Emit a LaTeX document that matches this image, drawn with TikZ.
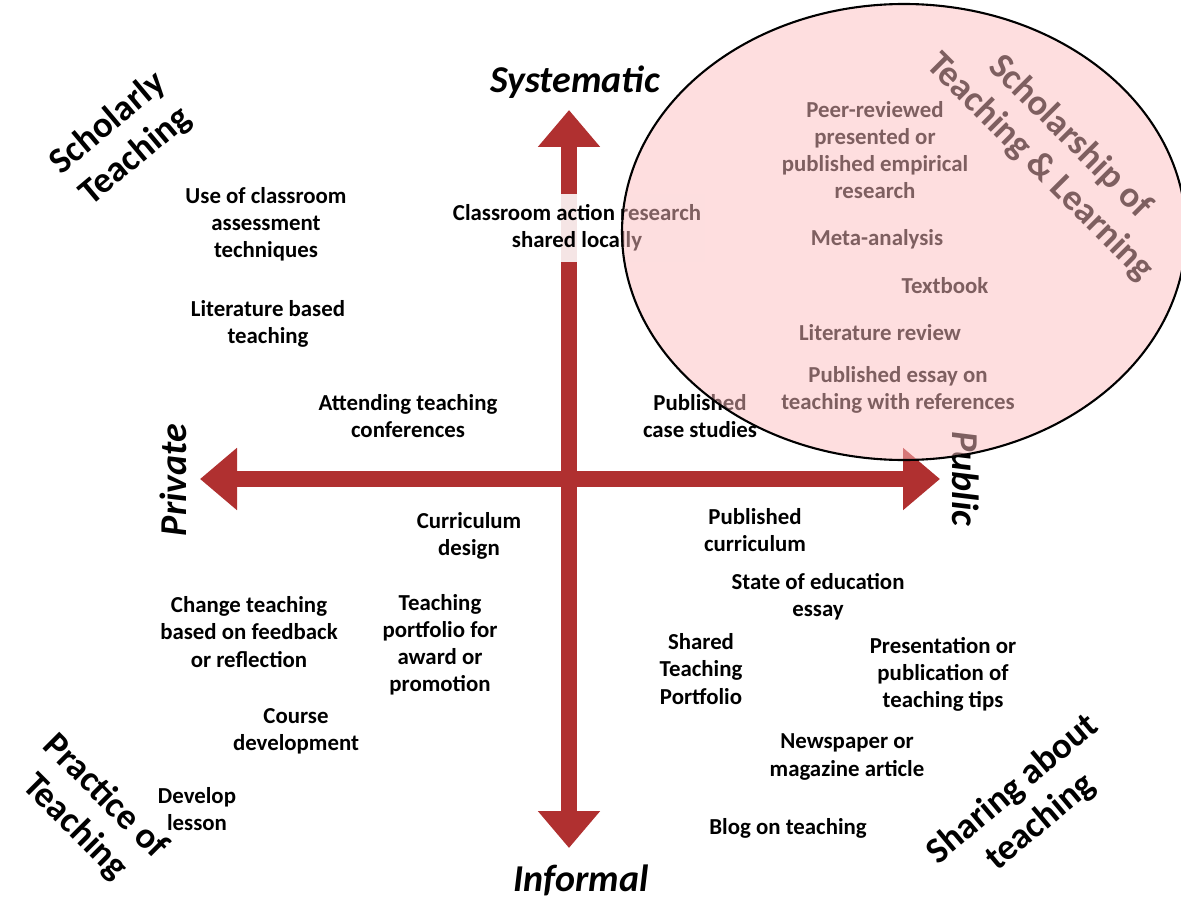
\documentclass[tikz,border=0pt]{standalone}
\usepackage{fontspec}
\setmainfont{Carlito}
\usepackage{tikz}
\usetikzlibrary{%
	arrows.meta,%
	calc
}
\definecolor{axisred}{RGB}{176,48,48}
\definecolor{sotlpink}{RGB}{253,190,192}

\begin{document}
\begin{tikzpicture}[
	item/.style={font=\fontsize{6.5}{7.7}\selectfont\bfseries, align=center, inner sep=1pt},
	axislabel/.style={font=\fontsize{10.8}{12}\selectfont\bfseries\itshape, inner sep=0pt},
	corner/.style={font=\fontsize{10.4}{12.2}\selectfont\bfseries, align=center, inner sep=0pt},
	axis/.style={axisred, line width=0.16cm, {Triangle[length=3.7mm, width=6mm]}-{Triangle[length=3.7mm, width=6mm]}}
]
	\useasboundingbox (0,0) rectangle (11.81,-8.98);
	% Axes
	\coordinate (west) at (2.00,-4.79);
	\coordinate (east) at (9.40,-4.79);
	\coordinate (north) at (5.69,-1.10);
	\coordinate (south) at (5.69,-8.48);
	\draw[axis] (west) -- (east);
	\draw[axis] (south) -- (north);
	% Axis labels
	\node[axislabel] (systematic) at (5.75,-0.82) {Systematic};
	\node[axislabel] (informal) at (5.81,-8.80) {Informal};
	\node[axislabel, rotate=90] (private) at (1.73,-4.80) {Private};
	\node[axislabel, rotate=-90] (public) at (9.66,-4.79) {Public};
	% Corner labels
	\node[corner, rotate=40] (scholarly) at (1.22,-1.40) {Scholarly\\Teaching};
	\node[corner, rotate=-45] (practice) at (0.90,-8.12) {Practice of\\Teaching};
	\node[corner, rotate=40] (sharing) at (10.27,-8.06) {Sharing about\\teaching};
	\node[corner, rotate=-45] (sotl) at (10.55,-1.52) {Scholarship of\\Teaching \& Learning};
	% Activities
	\node[item] (cat) at (2.66,-2.24) {Use of classroom\\assessment\\techniques};
	\node[item] (litbased) at (2.68,-3.24) {Literature based\\teaching};
	\node[item] (attend) at (4.08,-4.16) {Attending teaching\\conferences};
	\node[item, inner ysep=3pt, fill=white, fill opacity=0.88, text opacity=1] (actionres) at (5.77,-2.28) {Classroom action research\\shared locally};
	\node[item] (peer) at (8.75,-1.50) {Peer-reviewed\\presented or\\published empirical\\research};
	\node[item] (meta) at (8.77,-2.39) {Meta-analysis};
	\node[item] (textbook) at (9.45,-2.86) {Textbook};
	\node[item] (litrev) at (8.80,-3.33) {Literature review};
	\node[item] (essay) at (8.98,-3.90) {Published essay on\\teaching with references};
	\node[item] (casestud) at (7.00,-4.16) {Published\\case studies};
	\node[item] (currdes) at (4.69,-5.36) {Curriculum\\design};
	\node[item] (pubcurr) at (7.55,-5.30) {Published\\curriculum};
	\node[item] (stateed) at (8.18,-5.97) {State of education\\essay};
	\node[item] (change) at (2.49,-6.32) {Change teaching\\based on feedback\\or reflection};
	\node[item] (portfolio) at (4.40,-6.45) {Teaching\\portfolio for\\award or\\promotion};
	\node[item] (shared) at (7.01,-6.69) {Shared\\Teaching\\Portfolio};
	\node[item] (tips) at (9.43,-6.74) {Presentation or\\publication of\\teaching tips};
	\node[item] (course) at (2.96,-7.31) {Course\\development};
	\node[item] (news) at (8.47,-7.57) {Newspaper or\\magazine article};
	\node[item] (develop) at (1.97,-8.09) {Develop\\lesson};
	\node[item] (blog) at (7.88,-8.28) {Blog on teaching};
	% SoTL region
	\draw[line width=0.6pt, fill=sotlpink, fill opacity=0.5] (9.04,-2.32) ellipse (2.82 and 2.28);
\end{tikzpicture}
\end{document}
